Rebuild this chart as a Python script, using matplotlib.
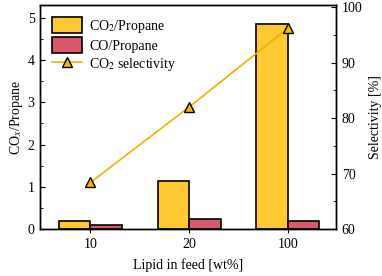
import matplotlib.pyplot as plt
import numpy as np

plt.rcParams['font.family'] = ['Liberation Serif', 'DejaVu Serif']
plt.rcParams['mathtext.fontset'] = 'stix'
plt.rcParams['font.size'] = 10

categories = ['10', '20', '100']
co2_propane = [0.20, 1.14, 4.86]
co_propane = [0.09, 0.245, 0.195]
co2_selectivity = [68.4, 82.0, 96.2]

yellow = '#FFC933'
red = '#D9596B'
line_col = '#F0B000'

x = np.arange(len(categories))
w = 0.32

fig = plt.figure(figsize=(3.82, 2.76), dpi=100)
ax = fig.add_axes([0.105, 0.170, 0.775, 0.812])

b1 = ax.bar(x - w / 2, co2_propane, w, color=yellow, edgecolor='black', linewidth=1.2)
b2 = ax.bar(x + w / 2, co_propane, w, color=red, edgecolor='black', linewidth=1.2)

ax.set_xlim(-0.51, 2.49)
ax.set_ylim(0, 5.3)
ax.set_xticks(x)
ax.set_xticklabels(categories)
ax.set_yticks([0, 1, 2, 3, 4, 5])
ax.set_yticks(np.arange(0.5, 5.3, 1.0), minor=True)
ax.tick_params(axis='y', which='both', direction='in', left=True, right=False)
ax.tick_params(axis='y', which='major', length=3.5, pad=4)
ax.tick_params(axis='y', which='minor', length=2)
ax.tick_params(axis='x', direction='out', length=3)
ax.set_xlabel('Lipid in feed [wt%]', labelpad=5)
ax.set_ylabel('CO$_x$/Propane', labelpad=2)

ax2 = ax.twinx()
ln, = ax2.plot(x, co2_selectivity, color=line_col, linewidth=1.2, marker='^', markersize=7.5,
               markerfacecolor='#F5B800', markeredgecolor='black', markeredgewidth=1.0)
ax2.set_ylim(60, 100.4)
ax2.set_yticks([60, 70, 80, 90, 100])
ax2.set_yticks([65, 75, 85, 95], minor=True)
ax2.tick_params(axis='y', which='both', direction='in')
ax2.tick_params(axis='y', which='major', length=3.5, pad=4)
ax2.tick_params(axis='y', which='minor', length=2)
ax2.set_ylabel('Selectivity [%]', labelpad=5)

for a in (ax, ax2):
    for s in a.spines.values():
        s.set_linewidth(1.0)

ax2.legend([b1, b2, ln], ['CO$_2$/Propane', 'CO/Propane', 'CO$_2$ selectivity'],
           loc='upper left', bbox_to_anchor=(0.0, 1.0), frameon=False,
           handlelength=2.2, handleheight=1.45, handletextpad=0.5, labelspacing=0.15,
           borderaxespad=0.45, fontsize=10)

plt.savefig('out.png', dpi=100)
plt.close()
